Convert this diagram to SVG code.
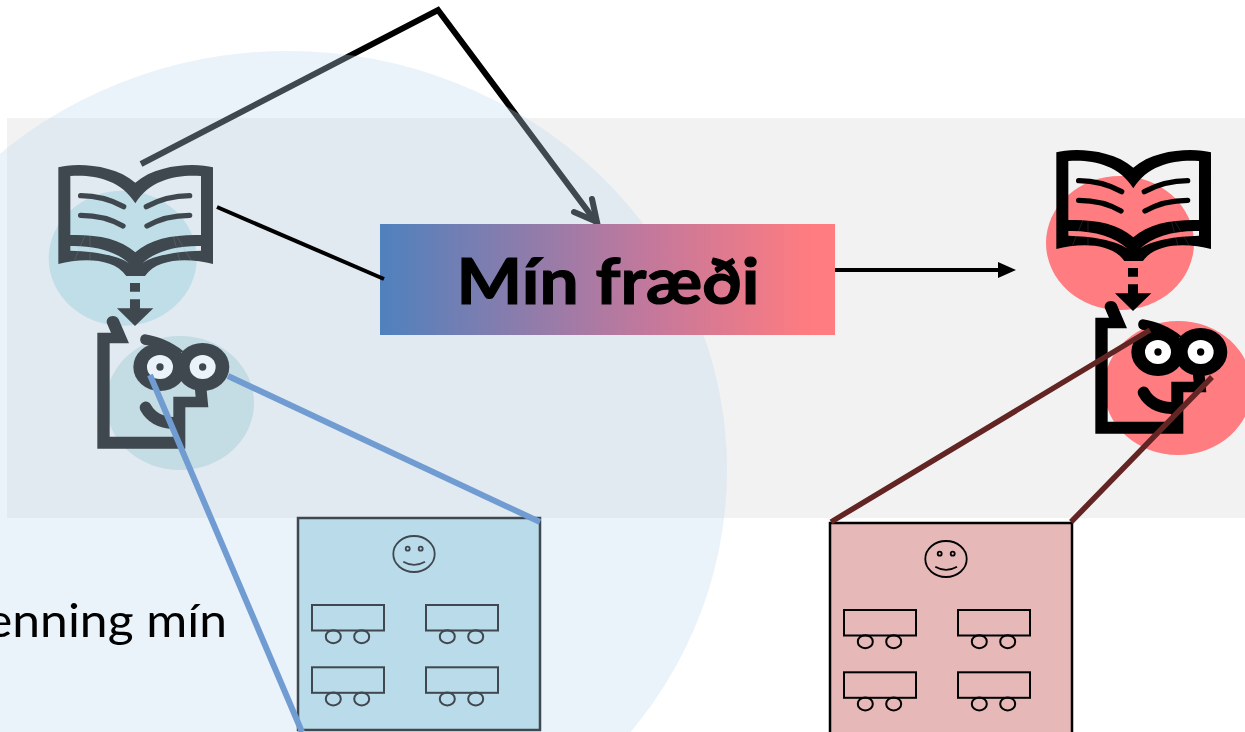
<svg xmlns="http://www.w3.org/2000/svg" width="1245" height="732" viewBox="0 0 1245 732">
<style>
.ink{fill:currentColor;stroke:none}
.inkline{fill:none;stroke:currentColor;stroke-linecap:round}
.hair{fill:none;stroke:#999;stroke-width:1;opacity:.6}
.eye{fill:#fff}
.desk{fill:none;stroke:currentColor;stroke-width:2}
.fine{fill:none;stroke:currentColor;stroke-width:1.800}
.con{fill:none}
.label{fill:#000;font-family:Lato,'Liberation Sans',sans-serif}
</style>
<defs>
<linearGradient id="grad" x1="0" y1="0" x2="1" y2="0"><stop offset="0" stop-color="#4f81bd"/><stop offset=".6" stop-color="#c5789b"/><stop offset=".95" stop-color="#ff7c80"/></linearGradient>
<marker id="ah" markerUnits="userSpaceOnUse" markerWidth="18" markerHeight="18" refX="2" refY="9" orient="auto"><path d="M0 1L18 9L0 17z" fill="#000"/></marker>
<g id="book" transform="translate(30 140) scale(.3333)">
<path class="ink" fill-rule="evenodd" d="M85 82C130 68 250 70 316 128C382 70 502 68 549 82V372C484 355 385 350 345 408H289C249 350 150 355 85 372ZM121 108V285C200 283 270 295 316 337C362 295 434 283 513 285V108C447 103 362 115 316 190C270 115 185 103 121 108ZM121 318V332C190 334 262 345 297 370C260 335 195 316 121 318ZM513 318V332C444 334 372 345 337 370C374 335 439 316 513 318Z"/>
<path class="inkline" stroke-width="16" d="M152 167C200 167 245 180 281 200M152 226C200 226 245 238 279 258M479 167C431 167 386 180 349 200M479 226C431 226 386 238 351 258"/>
<path class="hair" d="M165 285L133 362M180 285V364M430 288L450 364M440 288L485 364"/>
<path class="ink" d="M300 429H330V455H300ZM300 478H330V505H370L315 558L261 505H300Z"/>
</g>
<g id="face" transform="translate(30 140) scale(.3333)">
<path class="ink" d="M202 578H243L232 553C222 530 255 518 266 538L297 610H239V890H430V770H497L495 750H530L535 802H466V926H202Z"/>
<ellipse class="ink" cx="390" cy="681" rx="80" ry="72"/>
<ellipse class="ink" cx="518" cy="681" rx="80" ry="72"/>
<path class="ink" d="M345 583C385 590 425 605 462 635L420 640C400 622 370 618 342 614C325 610 328 582 345 583Z"/>
<ellipse class="eye" cx="390" cy="681" rx="39" ry="36"/>
<ellipse class="eye" cx="518" cy="681" rx="39" ry="36"/>
<circle class="ink" cx="390" cy="681" r="11"/>
<circle class="ink" cx="518" cy="681" r="11"/>
<path class="inkline" stroke-width="36" d="M347 803C365 835 395 848 430 849"/>
</g>
<g id="room">
<ellipse class="fine" cx="414" cy="554" rx="20.700" ry="18"/>
<circle class="fine" cx="407.700" cy="548.700" r="2"/>
<circle class="fine" cx="420.700" cy="548.700" r="2"/>
<path class="fine" d="M403.300 561.700Q414 568 425 561.700"/>
<rect class="desk" x="312" y="605" width="72" height="25.500"/>
<rect class="desk" x="426" y="605" width="72" height="25.500"/>
<rect class="desk" x="312" y="667.300" width="72" height="25.500"/>
<rect class="desk" x="426" y="667.300" width="72" height="25.500"/>
<ellipse class="desk" cx="333.300" cy="636.700" rx="7.500" ry="6.500"/>
<ellipse class="desk" cx="361.700" cy="636.700" rx="7.500" ry="6.500"/>
<ellipse class="desk" cx="447.300" cy="636.700" rx="7.500" ry="6.500"/>
<ellipse class="desk" cx="475.700" cy="636.700" rx="7.500" ry="6.500"/>
<ellipse class="desk" cx="333.300" cy="698.900" rx="7.500" ry="6.500"/>
<ellipse class="desk" cx="361.700" cy="698.900" rx="7.500" ry="6.500"/>
<ellipse class="desk" cx="447.300" cy="698.900" rx="7.500" ry="6.500"/>
<ellipse class="desk" cx="475.700" cy="698.900" rx="7.500" ry="6.500"/>
</g>
</defs>
<rect id="band" x="7" y="118" width="1238" height="400" fill="#f2f2f2"/>
<g id="left-book"><ellipse cx="122.700" cy="258.300" rx="74" ry="67.500" fill="#bfe1e5"/><use href="#book" color="#000"/></g>
<g id="left-student"><ellipse cx="180" cy="403" rx="74" ry="67" fill="#c7dedd"/><use href="#face" color="#000"/></g>
<g id="left-classroom"><rect x="298" y="518" width="242" height="212" fill="#b7dde8" stroke="#000" stroke-width="2.500"/><use href="#room" color="#000"/></g>
<g id="connectors-under"><path class="con" d="M141 164L438 10L596 222" stroke="#000" stroke-width="6"/><path class="con" d="M574 212L597 222L592 199" stroke="#000" stroke-width="6" stroke-linecap="round"/></g>
<ellipse id="overlay" cx="288" cy="470" rx="439" ry="419" fill="#c0d8f0" opacity=".33"/>
<g id="label-knowledge"><rect x="380" y="224" width="455" height="111" fill="url(#grad)"/><text class="label" x="608" y="304" font-weight="700" font-size="64" text-anchor="middle" textLength="303" lengthAdjust="spacingAndGlyphs" stroke="#000" stroke-width="1.200">Mín fræði</text></g>
<text id="label-left" class="label" x="-14" y="637" font-size="47" textLength="241" lengthAdjust="spacingAndGlyphs">enning mín</text>
<g id="right-book"><ellipse cx="1120" cy="243" rx="74" ry="67" fill="#ff7c80"/><use href="#book" x="998" y="-15" color="#000"/></g>
<g id="right-student"><ellipse cx="1178" cy="388" rx="74" ry="67" fill="#ff7c80"/><use href="#face" x="998" y="-15" color="#000"/></g>
<g id="right-classroom"><rect x="830" y="523" width="242" height="212" fill="#e6b8b7" stroke="#000" stroke-width="2.500"/><use href="#room" x="532" y="5" color="#000"/></g>
<g id="connectors">
<path class="con" d="M217 207L384 279" stroke="#000" stroke-width="4"/>
<path class="con" d="M835 270H1000" stroke="#000" stroke-width="4" marker-end="url(#ah)"/>
<path class="con" d="M150 375L302 732M228 376L540 522" stroke="#709cd2" stroke-width="6"/>
<path class="con" d="M831 522L1150 330M1071 522L1212 377" stroke="#632523" stroke-width="5.500"/>
</g>
</svg>
